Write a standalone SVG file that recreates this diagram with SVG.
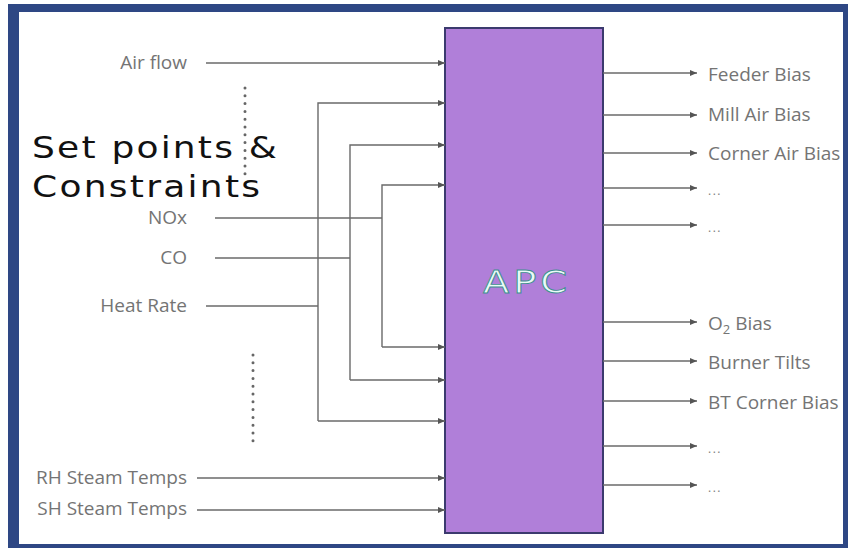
<svg xmlns="http://www.w3.org/2000/svg" width="848" height="548" viewBox="0 0 848 548">
  <defs>
    <marker id="arr" markerUnits="userSpaceOnUse" markerWidth="8" markerHeight="7" refX="7" refY="3.5" orient="auto">
      <path d="M0,0.5 L7,3.5 L0,6.5 Z" fill="#555"/>
    </marker>
    <style>
      .lbl { font-family: "Open Sans", "Noto Sans", sans-serif; font-size: 19px; fill: #747474; }
      .end { text-anchor: end; }
      .dots { font-family: "Open Sans", sans-serif; font-size: 12px; fill: #808080; letter-spacing: 1.5px; }
      .ln { stroke: #6a6a6a; stroke-width: 1.4; fill: none; }
      .arrow { stroke: #6a6a6a; stroke-width: 1.4; fill: none; marker-end: url(#arr); }
      .dot { stroke: #666; stroke-width: 3; stroke-linecap: round; stroke-dasharray: 0 7.8; fill: none; }
      .big { font-family: "DejaVu Sans", Verdana, sans-serif; font-size: 30px; fill: #111; }
    </style>
  </defs>

  <rect x="0" y="0" width="848" height="548" fill="#ffffff"/>
  <path d="M8,4 H848 V548 H8 Z M19,12 V544 H843 V12 Z" fill="#2e4784" fill-rule="evenodd"/>

  <g id="apc">
    <rect x="445" y="28" width="158" height="505" fill="#b07fd9" stroke="#3b3a6e" stroke-width="2"/>
    <text transform="scale(1.2,1)" x="437.5" y="293" text-anchor="middle" font-family="DejaVu Sans, Verdana, sans-serif" font-size="32" fill="#eafbf7" stroke="#3f8f8f" stroke-width="0.9" textLength="70" lengthAdjust="spacing">APC</text>
  </g>

  <g id="setpoints">
    <text class="big" transform="scale(1.2,1)" x="26.7" y="158" textLength="204" lengthAdjust="spacing">Set points &amp;</text>
    <text class="big" transform="scale(1.2,1)" x="26.7" y="197" textLength="190" lengthAdjust="spacing">Constraints</text>
  </g>

  <g id="inputs">
    <g id="in-airflow"><text class="lbl end" x="187" y="69">Air flow</text></g>
    <g id="in-nox"><text class="lbl end" x="187" y="224">NOx</text></g>
    <g id="in-co"><text class="lbl end" x="187" y="264">CO</text></g>
    <g id="in-heatrate"><text class="lbl end" x="187" y="312">Heat Rate</text></g>
    <g id="in-rh"><text class="lbl end" x="187" y="484">RH Steam Temps</text></g>
    <g id="in-sh"><text class="lbl end" x="187" y="515">SH Steam Temps</text></g>
  </g>

  <g id="outputs">
    <g id="out-feeder"><text class="lbl" x="708" y="81">Feeder Bias</text></g>
    <g id="out-millair"><text class="lbl" x="708" y="121">Mill Air Bias</text></g>
    <g id="out-cornerair"><text class="lbl" x="708" y="160">Corner Air Bias</text></g>
    <g id="out-more1"><text class="dots" x="708" y="195">...</text></g>
    <g id="out-more2"><text class="dots" x="708" y="232">...</text></g>
    <g id="out-o2"><text class="lbl" x="708" y="330">O<tspan font-size="13" dy="4">2</tspan><tspan dy="-4"> Bias</tspan></text></g>
    <g id="out-tilts"><text class="lbl" x="708" y="369">Burner Tilts</text></g>
    <g id="out-btcorner"><text class="lbl" x="708" y="409">BT Corner Bias</text></g>
    <g id="out-more3"><text class="dots" x="708" y="453">...</text></g>
    <g id="out-more4"><text class="dots" x="708" y="492">...</text></g>
  </g>

  <g id="connectors">
    <line class="arrow" x1="206" y1="63" x2="445" y2="63"/>
    <polyline class="arrow" points="318,421 318,103 445,103"/>
    <polyline class="arrow" points="350,380 350,145 445,145"/>
    <polyline class="arrow" points="382,347 382,185 445,185"/>
    <line class="ln" x1="215" y1="218" x2="382" y2="218"/>
    <line class="ln" x1="215" y1="258" x2="350" y2="258"/>
    <line class="ln" x1="206" y1="306" x2="318" y2="306"/>
    <line class="arrow" x1="382" y1="347" x2="445" y2="347"/>
    <line class="arrow" x1="350" y1="380" x2="445" y2="380"/>
    <line class="arrow" x1="318" y1="421" x2="445" y2="421"/>
    <line class="arrow" x1="197" y1="478" x2="445" y2="478"/>
    <line class="arrow" x1="197" y1="510" x2="445" y2="510"/>
    <line class="dot" x1="245" y1="88" x2="245" y2="174"/>
    <line class="dot" x1="253" y1="355" x2="253" y2="443"/>
    <line class="arrow" x1="603" y1="73" x2="697" y2="73"/>
    <line class="arrow" x1="603" y1="115" x2="697" y2="115"/>
    <line class="arrow" x1="603" y1="153" x2="697" y2="153"/>
    <line class="arrow" x1="603" y1="188" x2="697" y2="188"/>
    <line class="arrow" x1="603" y1="225" x2="697" y2="225"/>
    <line class="arrow" x1="603" y1="322" x2="697" y2="322"/>
    <line class="arrow" x1="603" y1="361" x2="697" y2="361"/>
    <line class="arrow" x1="603" y1="401" x2="697" y2="401"/>
    <line class="arrow" x1="603" y1="446" x2="697" y2="446"/>
    <line class="arrow" x1="603" y1="485" x2="697" y2="485"/>
  </g>
</svg>
